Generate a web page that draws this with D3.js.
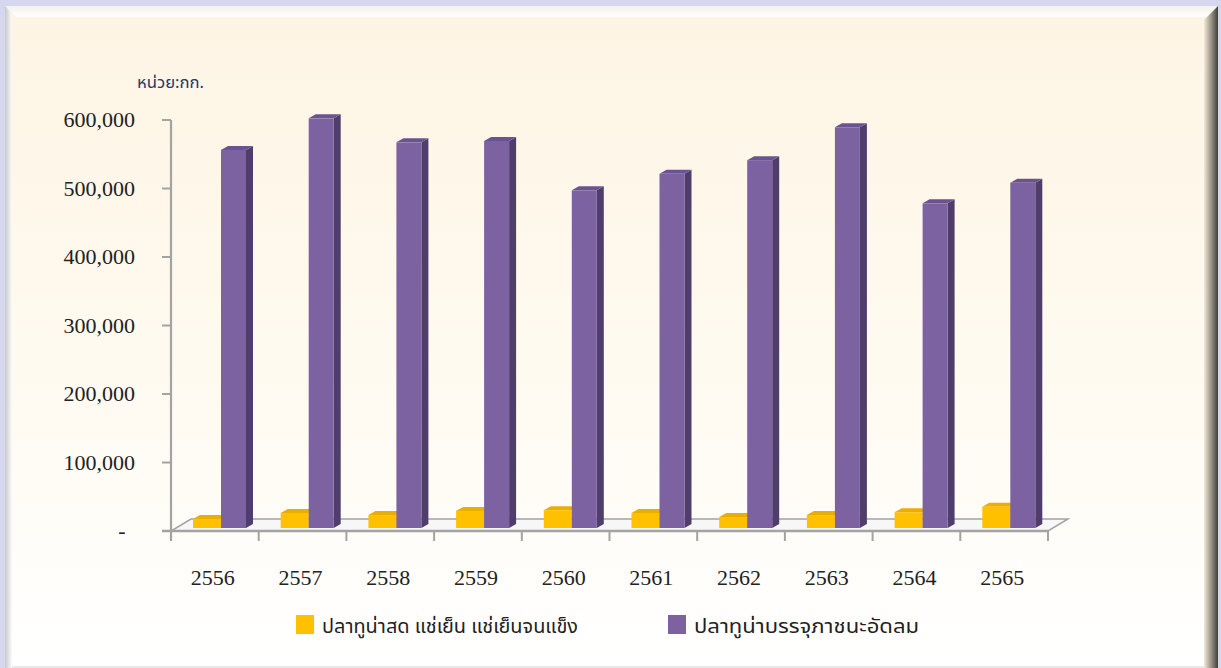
<!DOCTYPE html>
<html>
<head>
<meta charset="utf-8">
<script src="https://cdn.jsdelivr.net/npm/d3@7"></script>
<style>
  html, body { margin: 0; padding: 0; background: #d5d7ef; }
  svg { display: block; }
</style>
</head>
<body>
<svg id="chart" width="1221" height="668"></svg>
<script>
// Thai tuna exports, kg per year (Buddhist era)
const years = ["2556", "2557", "2558", "2559", "2560", "2561", "2562", "2563", "2564", "2565"];
const freshFrozen = [13000, 22000, 19000, 25000, 26000, 22000, 16000, 19000, 23000, 31000];
const canned = [552000, 598000, 563000, 565000, 493000, 517000, 537000, 585000, 474000, 504000];
const yTicks = [0, 100000, 200000, 300000, 400000, 500000, 600000];
const seriesNames = ["ปลาทูน่าสด แช่เย็น แช่เย็นจนแข็ง", "ปลาทูน่าบรรจุภาชนะอัดลม"];
const unitLabel = "หน่วย:กก.";

const svg = d3.select("#chart");
const W = 1221, H = 668;

// ---- frame with bevelled edges ----
const defs = svg.append("defs");
const bg = defs.append("linearGradient").attr("id", "panelFill").attr("x1", 0).attr("y1", 0).attr("x2", 0).attr("y2", 1);
bg.append("stop").attr("offset", "0%").attr("stop-color", "#fdf4e3");
bg.append("stop").attr("offset", "55%").attr("stop-color", "#fffaf0");
bg.append("stop").attr("offset", "100%").attr("stop-color", "#ffffff");
const rShade = defs.append("linearGradient").attr("id", "rightEdge").attr("x1", 0).attr("y1", 0).attr("x2", 1).attr("y2", 0);
rShade.append("stop").attr("offset", "0%").attr("stop-color", "#f3ead8");
rShade.append("stop").attr("offset", "60%").attr("stop-color", "#8a8478");
rShade.append("stop").attr("offset", "100%").attr("stop-color", "#3e3e3e");
const lShade = defs.append("linearGradient").attr("id", "leftEdge").attr("x1", 0).attr("y1", 0).attr("x2", 1).attr("y2", 0);
lShade.append("stop").attr("offset", "0%").attr("stop-color", "#c8c8c8");
lShade.append("stop").attr("offset", "100%").attr("stop-color", "#fbfbfb");
const tShade = defs.append("linearGradient").attr("id", "topEdge").attr("x1", 0).attr("y1", 0).attr("x2", 0).attr("y2", 1);
tShade.append("stop").attr("offset", "0%").attr("stop-color", "#f4f1ea");
tShade.append("stop").attr("offset", "100%").attr("stop-color", "#ffffff");

svg.append("rect").attr("width", W).attr("height", H).attr("fill", "#d5d7ef");
const fx0 = 5, fy0 = 6, fx1 = 1218, fy1 = 668, bev = 11;
svg.append("rect").attr("x", fx0).attr("y", fy0).attr("width", fx1 - fx0).attr("height", fy1 - fy0).attr("fill", "url(#panelFill)");
svg.append("polygon").attr("points", [[fx0, fy0], [fx1, fy0], [fx1 - bev, fy0 + bev], [fx0 + bev, fy0 + bev]].join(" ")).attr("fill", "url(#topEdge)");
svg.append("polygon").attr("points", [[fx0, fy0], [fx0 + 7, fy0 + 7], [fx0 + 7, fy1], [fx0, fy1]].join(" ")).attr("fill", "url(#leftEdge)");
svg.append("polygon").attr("points", [[fx1, fy0], [fx1 - 14, fy0 + 14], [fx1 - 14, fy1], [fx1, fy1]].join(" ")).attr("fill", "url(#rightEdge)");
svg.append("line").attr("x1", fx0 + 7).attr("x2", fx1 - 14).attr("y1", fy1 - 1).attr("y2", fy1 - 1).attr("stroke", "#e2e2e2").attr("stroke-width", 1.5);

// ---- scales ----
const x = d3.scaleBand().domain(years).range([171, 1048]);
const y = d3.scaleLinear().domain([0, 600000]).range([531, 120]);
const depth = { dx: 20, dy: -12 };   // floor depth
const barDepth = { dx: 7, dy: -4 };  // column depth
const barShift = { dx: 0, dy: -3 };  // columns sit slightly back on the floor

const axisColor = "#a3a3a3";
const serif = "'Liberation Serif', 'Times New Roman', serif";
const thai = "'Noto Sans Thai', 'Noto Sans Thai UI', 'Tahoma', 'Noto Sans', sans-serif";

// ---- floor ----
const x0 = x.range()[0], x1 = x.range()[1], y0 = y(0);
svg.append("polygon")
  .attr("points", [[x0, y0], [x1, y0], [x1 + depth.dx, y0 + depth.dy], [x0 + depth.dx, y0 + depth.dy]].join(" "))
  .attr("fill", "#f7f7f7").attr("stroke", axisColor).attr("stroke-width", 1.5);
svg.append("line").attr("x1", x0 - 9).attr("x2", x1).attr("y1", y0).attr("y2", y0)
  .attr("stroke", axisColor).attr("stroke-width", 2.5);

// ---- value axis ----
svg.append("line").attr("x1", x0).attr("x2", x0).attr("y1", y(600000)).attr("y2", y0 + 9)
  .attr("stroke", axisColor).attr("stroke-width", 2.2);
svg.selectAll(".ytick").data(yTicks).join("line").attr("class", "ytick")
  .attr("x1", x0 - 9).attr("x2", x0).attr("y1", d => y(d)).attr("y2", d => y(d))
  .attr("stroke", axisColor).attr("stroke-width", 2);
svg.selectAll(".ylabel").data(yTicks).join("text").attr("class", "ylabel")
  .attr("x", d => d === 0 ? 122 : 135)
  .attr("y", d => y(d) + 7)
  .attr("text-anchor", d => d === 0 ? "middle" : "end")
  .attr("font-family", serif).attr("font-size", 22).attr("fill", "#222")
  .text(d => d === 0 ? "-" : d3.format(",")(d));

// ---- category axis ----
const bounds = years.map(d => x(d)).concat([x1]);
svg.selectAll(".xtick").data(bounds).join("line").attr("class", "xtick")
  .attr("x1", d => d).attr("x2", d => d).attr("y1", y0).attr("y2", y0 + 10)
  .attr("stroke", axisColor).attr("stroke-width", 2);
svg.selectAll(".xlabel").data(years).join("text").attr("class", "xlabel")
  .attr("x", d => x(d) + x.bandwidth() / 2 - 2).attr("y", 585)
  .attr("text-anchor", "middle")
  .attr("font-family", serif).attr("font-size", 22).attr("fill", "#222")
  .text(d => d);

// ---- 3D columns ----
function column(g, xLeft, w, v, colors) {
  const bx = xLeft + barShift.dx, by = y(0) + barShift.dy;
  const ty = y(v) + barShift.dy;
  const { dx, dy } = barDepth;
  g.append("polygon") // side
    .attr("points", [[bx + w, by], [bx + w + dx, by + dy], [bx + w + dx, ty + dy], [bx + w, ty]].join(" "))
    .attr("fill", colors.side);
  g.append("polygon") // top
    .attr("points", [[bx, ty], [bx + w, ty], [bx + w + dx, ty + dy], [bx + dx, ty + dy]].join(" "))
    .attr("fill", colors.top);
  g.append("rect") // front
    .attr("x", bx).attr("y", ty).attr("width", w).attr("height", by - ty)
    .attr("fill", colors.front);
}
const yellow = { front: "#ffc000", side: "#d9a200", top: "#e8ae00" };
const purple = { front: "#7d62a1", side: "#4f3e6b", top: "#6a5390" };
const bars = svg.append("g");
years.forEach((yr, i) => {
  const g = bars.append("g");
  column(g, x(yr) + 22, 28, freshFrozen[i], yellow);
  column(g, x(yr) + 50, 25, canned[i], purple);
});

// ---- unit label ----
svg.append("text").attr("x", 137).attr("y", 88)
  .attr("font-family", thai).attr("font-size", 16).attr("fill", "#22386e")
  .attr("textLength", 67).attr("lengthAdjust", "spacingAndGlyphs")
  .text(unitLabel);

// ---- legend ----
const legend = [
  { name: seriesNames[0], color: yellow.front, x: 296, len: 256 },
  { name: seriesNames[1], color: purple.front, x: 668, len: 225 }
];
const lg = svg.selectAll(".legend").data(legend).join("g").attr("class", "legend");
lg.append("rect").attr("x", d => d.x).attr("y", 615).attr("width", 18).attr("height", 19).attr("fill", d => d.color);
lg.append("text").attr("x", d => d.x + 26).attr("y", 633)
  .attr("font-family", thai).attr("font-size", 20).attr("fill", "#222")
  .attr("textLength", d => d.len).attr("lengthAdjust", "spacingAndGlyphs")
  .text(d => d.name);
</script>
</body>
</html>
